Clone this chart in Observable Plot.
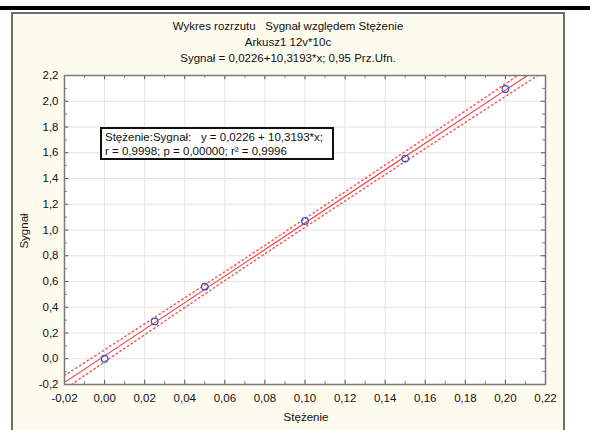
<!DOCTYPE html>
<html>
<head>
<meta charset="utf-8">
<script src="https://cdn.jsdelivr.net/npm/d3@7"></script>
<script src="https://cdn.jsdelivr.net/npm/@observablehq/plot@0.6"></script>
<style>
  html, body { margin: 0; padding: 0; background: #ffffff; }
  body { width: 590px; height: 430px; position: relative; overflow: hidden; font-family: "Liberation Sans", Arial, sans-serif; }
  #topbar { position: absolute; left: 0; top: 6px; width: 590px; height: 4px; background: #000; }
  #panel { position: absolute; left: 11px; top: 12px; width: 550px; height: 430px; background: #fdfbee; border: 2px solid #6e6e6e; }
  .title { position: absolute; left: 11px; width: 554px; text-align: center; font-size: 11.5px; color: #111; }
  #chart { position: absolute; left: 0; top: 0; }
  #note { position: absolute; left: 100px; top: 127px; width: 227px; height: 28px; background: #fff; border: 2px solid #111; font-size: 11.5px; line-height: 14px; padding: 1px 0 0 3px; box-sizing: content-box; color: #111; white-space: pre; }
  #ylab { position: absolute; left: 24px; top: 231px; transform: translate(-50%, -50%) rotate(-90deg); font-size: 11.5px; color: #111; }
  #xlab { position: absolute; left: 306px; top: 417px; transform: translate(-50%, -50%); font-size: 11.5px; color: #111; }
</style>
</head>
<body>
<div id="topbar"></div>
<div id="panel"></div>
<div class="title" style="top:20px">Wykres rozrzutu&nbsp;&nbsp; Sygnał względem Stężenie</div>
<div class="title" style="top:36px">Arkusz1 12v*10c</div>
<div class="title" style="top:52px">Sygnał = 0,0226+10,3193*x; 0,95 Prz.Ufn.</div>
<div id="chart"></div>
<div id="ylab">Sygnał</div>
<div id="xlab">Stężenie</div>
<div id="note">Stężenie:Sygnał:   y = 0,0226 + 10,3193*x;
r = 0,9998; p = 0,00000; r² = 0,9996</div>
<script>
// Data
const stezenie = [0.0, 0.025, 0.05, 0.10, 0.15, 0.20];
const sygnal   = [0.0, 0.29, 0.56, 1.07, 1.555, 2.095];
// Regression coefficients (from the chart title)
const intercept = 0.0226;
const slope = 10.3193;
// Confidence band half-widths
const bandX    = [-0.02, 0.0, 0.05, 0.09, 0.15, 0.20, 0.22];
const bandHalf = [0.055, 0.047, 0.036, 0.033, 0.039, 0.049, 0.055];
// Axis ticks
const xTicks = [-0.02, 0.0, 0.02, 0.04, 0.06, 0.08, 0.10, 0.12, 0.14, 0.16, 0.18, 0.20, 0.22];
const yTicks = [-0.2, 0.0, 0.2, 0.4, 0.6, 0.8, 1.0, 1.2, 1.4, 1.6, 1.8, 2.0, 2.2];
const xMinor = [-0.01, 0.01, 0.03, 0.05, 0.07, 0.09, 0.11, 0.13, 0.15, 0.17, 0.19, 0.21];
const yMinor = [-0.1, 0.1, 0.3, 0.5, 0.7, 0.9, 1.1, 1.3, 1.5, 1.7, 1.9, 2.1];

const points = stezenie.map((x, i) => ({x, y: sygnal[i]}));
const fit = bandX.map((x, i) => ({x, y: intercept + slope * x, h: bandHalf[i]}));

const xd = [-0.02, 0.22], yd = [-0.2, 2.2];
const fmtX = d => d.toFixed(2).replace(".", ",");
const fmtY = d => d.toFixed(1).replace(".", ",");
const tlx = 0.0021, tly = 0.033, mlx = 0.0014, mly = 0.022;

const plot = Plot.plot({
  width: 590,
  height: 430,
  marginLeft: 64,
  marginRight: 45,
  marginTop: 75,
  marginBottom: 46,
  style: {background: "transparent", fontFamily: "Liberation Sans, Arial, sans-serif", fontSize: "11.5px", color: "#111"},
  x: {domain: xd},
  y: {domain: yd},
  marks: [
    Plot.frame({fill: "white", stroke: "none"}),
    Plot.gridX(xTicks, {stroke: "#e4e4e4", strokeOpacity: 1}),
    Plot.gridY(yTicks, {stroke: "#e4e4e4", strokeOpacity: 1}),
    // ticks pointing inward on all four sides
    Plot.ruleX(xTicks, {x: d => d, y1: yd[0], y2: yd[0] + tly, stroke: "#555"}),
    Plot.ruleX(xTicks, {x: d => d, y1: yd[1], y2: yd[1] - tly, stroke: "#555"}),
    Plot.ruleX(xMinor, {x: d => d, y1: yd[0], y2: yd[0] + mly, stroke: "#777"}),
    Plot.ruleX(xMinor, {x: d => d, y1: yd[1], y2: yd[1] - mly, stroke: "#777"}),
    Plot.ruleY(yTicks, {y: d => d, x1: xd[0], x2: xd[0] + tlx, stroke: "#555"}),
    Plot.ruleY(yTicks, {y: d => d, x1: xd[1], x2: xd[1] - tlx, stroke: "#555"}),
    Plot.ruleY(yMinor, {y: d => d, x1: xd[0], x2: xd[0] + mlx, stroke: "#777"}),
    Plot.ruleY(yMinor, {y: d => d, x1: xd[1], x2: xd[1] - mlx, stroke: "#777"}),
    // confidence band (dotted)
    Plot.line(fit, {x: "x", y: d => d.y + d.h, stroke: "#f25a5a", strokeWidth: 1.5, strokeDasharray: "1.3,3.2", curve: "natural", clip: true}),
    Plot.line(fit, {x: "x", y: d => d.y - d.h, stroke: "#f25a5a", strokeWidth: 1.5, strokeDasharray: "1.3,3.2", curve: "natural", clip: true}),
    // regression line
    Plot.line(fit, {x: "x", y: "y", stroke: "#f03a3a", strokeWidth: 1.1, clip: true}),
    // data points
    Plot.dot(points, {x: "x", y: "y", r: 3.3, stroke: "#3a4fc8", strokeWidth: 1.2, fill: "none"}),
    Plot.frame({stroke: "#7a7a7a", strokeWidth: 1.5}),
    Plot.axisX(xTicks, {tickSize: 0, tickPadding: 9, tickFormat: fmtX, label: null, fontSize: 11.5}),
    Plot.axisY(yTicks, {tickSize: 0, tickPadding: 6, tickFormat: fmtY, label: null, fontSize: 11.5})
  ]
});
document.getElementById("chart").appendChild(plot);
</script>
</body>
</html>
